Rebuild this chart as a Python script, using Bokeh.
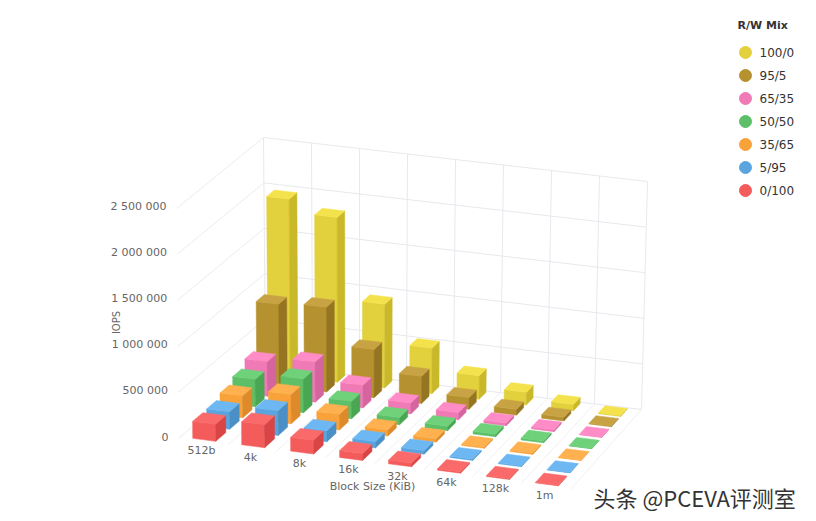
import numpy as np
from bokeh.plotting import figure
from bokeh.core.properties import value
from bokeh.embed import file_html
from bokeh.resources import INLINE

categories = ["512b", "4k", "8k", "16k", "32k", "64k", "128k", "1m"]
series_names = ["0/100", "5/95", "35/65", "50/50", "65/35", "95/5", "100/0"]
iops_0_100 = [185000, 250000, 150000, 75000, 40000, 15000, 10000, 5000]
iops_5_95 = [190000, 270000, 120000, 70000, 40000, 15000, 10000, 5000]
iops_35_65 = [240000, 320000, 170000, 70000, 40000, 15000, 15000, 5000]
iops_50_50 = [300000, 370000, 190000, 80000, 50000, 30000, 20000, 5000]
iops_65_35 = [380000, 440000, 250000, 120000, 80000, 30000, 20000, 5000]
iops_95_5 = [900000, 930000, 530000, 300000, 130000, 65000, 40000, 10000]
iops_100_0 = [1950000, 1810000, 920000, 500000, 260000, 140000, 70000, 10000]
y_ticks = [0, 500000, 1000000, 1500000, 2000000, 2500000]
y_tick_labels = ["0", "500 000", "1 000 000", "1 500 000", "2 000 000", "2 500 000"]
all_series = [iops_0_100, iops_5_95, iops_35_65, iops_50_50, iops_65_35, iops_95_5, iops_100_0]

front = ["#f45b5b", "#5aa5df", "#f9a23a", "#5dbf68", "#ef7ab6", "#b6912f", "#e2d03c"]
top = ["#fb6a6a", "#6db7f2", "#ffb14f", "#6fd27a", "#ff8cc6", "#c8a344", "#f4e24c"]
side = ["#d94545", "#4a8fc5", "#de8a2b", "#49a653", "#d5659f", "#957522", "#c9b82a"]

# projection of the 3D box: screen position of its eight corners
NU, NV, WMAX = 8.0, 7.0, 2500000.0
PERSP = 1.17
C = {
    (0, 0, 0): (178, 438), (0, 0, 1): (176, 208),
    (1, 0, 0): (570, 489), (1, 0, 1): (573, 258),
    (0, 1, 0): (265, 364), (0, 1, 1): (263, 137),
    (1, 1, 0): (641, 409), (1, 1, 1): (647, 181),
}

def proj(u, v, w):
    a, b, c = u / NU, v / NV, w / WMAX
    b = b * PERSP / (1 + (PERSP - 1) * b)
    x = y = 0.0
    for (i, j, k), (px, py) in C.items():
        f = (a if i else 1 - a) * (b if j else 1 - b) * (c if k else 1 - c)
        x += f * px
        y += f * py
    return x, y

p = figure(width=816, height=521, x_range=(0, 816), y_range=(521, 0),
           output_backend="svg", toolbar_location=None, min_border=0,
           outline_line_color=None, background_fill_color="white", border_fill_color="white")
p.xaxis.visible = False
p.yaxis.visible = False
p.xgrid.visible = False
p.ygrid.visible = False

def line(a, b, color, width=1.0):
    pa, pb = proj(*a), proj(*b)
    p.line([pa[0], pb[0]], [pa[1], pb[1]], line_color=color, line_width=width)

GRID = "#e8e8ee"
for t in y_ticks:
    line((0, NV, t), (NU, NV, t), GRID)
    line((0, 0, t), (0, NV, t), "#ececf0")
for i in range(len(categories) + 1):
    line((i, NV, 0), (i, NV, WMAX), GRID)
    line((i, 0, 0), (i, NV, 0), "#f2f0f2")

# bars, from the back row to the front one
xs, ys, cols = [], [], []
def add(face, color):
    pts = [proj(*q) for q in face]
    xs.append([q[0] for q in pts])
    ys.append([q[1] for q in pts])
    cols.append(color)

U0, U1 = 0.25, 0.72
V0, VD, VSTEP = 0.14, 0.72, 1.0
for k in range(len(all_series) - 1, -1, -1):
    v0 = V0 + VSTEP * k
    v1 = v0 + VD
    for i, val in enumerate(all_series[k]):
        u0, u1 = i + U0, i + U1
        add([(u0, v0, 0), (u1, v0, 0), (u1, v0, val), (u0, v0, val)], front[k])
        add([(u1, v0, 0), (u1, v1, 0), (u1, v1, val), (u1, v0, val)], side[k])
        add([(u0, v0, val), (u1, v0, val), (u1, v1, val), (u0, v1, val)], top[k])
p.patches(xs, ys, fill_color=cols, line_color=cols, line_width=0.5)

AX = "#666666"
FONT = value("DejaVu Sans")
for t, lab in zip(y_ticks, y_tick_labels):
    x, y = proj(0, 0, t)
    p.text([x - 10], [y - 2], text=[lab], text_font=FONT, text_font_size="11px", text_color=AX,
           text_align="right", text_baseline="middle")
for i, lab in enumerate(categories):
    x, y = proj(i + 0.5, 0, 0)
    p.text([x - 1.5], [y + 9], text=[lab], text_font=FONT, text_font_size="11px", text_color=AX,
           text_align="center", text_baseline="middle")
p.text([372], [486], text=["Block Size (KiB)"], text_font=FONT, text_font_size="11px", text_color=AX,
       text_align="center", text_baseline="middle")
p.text([116], [322], text=["IOPS"], text_font=FONT, text_font_size="10px", text_color=AX, angle=[np.pi / 2],
       text_align="center", text_baseline="middle")

# legend
p.text([737], [25], text=["R/W Mix"], text_font=FONT, text_font_size="11px", text_font_style="bold",
       text_color="#333333", text_baseline="middle")
for n, k in enumerate(range(len(series_names) - 1, -1, -1)):
    yy = 52 + 23 * n
    p.scatter([745], [yy], size=12, marker="circle", fill_color=front[k], line_color=front[k])
    p.text([759], [yy], text=[series_names[k]], text_font=FONT, text_font_size="12px", text_color="#333333",
           text_baseline="middle")

p.text([593], [496], text=["头条 @PCEVA评测室"], text_font=value("Noto Sans CJK SC"), text_font_size="22px",
       text_color="#333333", text_baseline="middle")

open("out.html", "w").write(file_html(p, INLINE))
